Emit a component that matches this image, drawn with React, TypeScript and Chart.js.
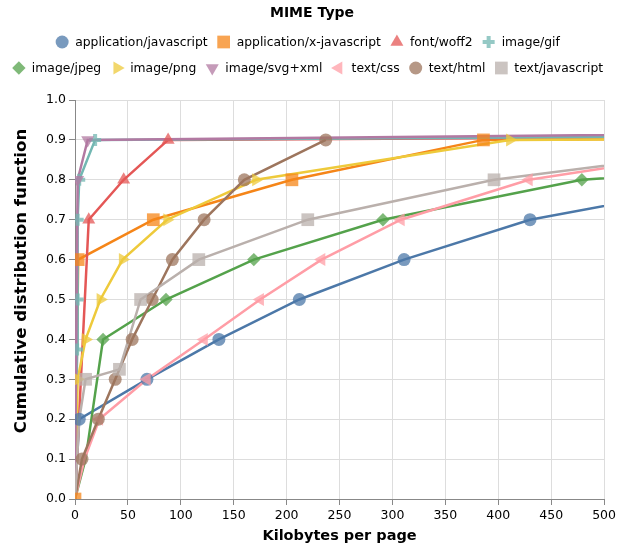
import React, { useEffect, useRef } from 'react';
import { Chart, registerables } from 'chart.js';
import { drawPoint } from 'chart.js/helpers';

Chart.register(...registerables);

const legendTitle = 'MIME Type';
const xTitle = 'Kilobytes per page';
const yTitle = 'Cumulative distribution function';

const seriesNames = [
  'application/javascript',
  'application/x-javascript',
  'font/woff2',
  'image/gif',
  'image/jpeg',
  'image/png',
  'image/svg+xml',
  'text/css',
  'text/html',
  'text/javascript',
];
const colors = ['#4c78a8', '#f58518', '#e45756', '#72b7b2', '#54a24b', '#eeca3b', '#b279a2', '#ff9da6', '#9d755d', '#bab0ac'];

// Kilobytes (x) and cumulative fraction (y) per MIME type
const appJsX = [0, 4, 68, 136, 212, 311, 430, 635];
const appJsY = [0, 0.2, 0.3, 0.4, 0.5, 0.6, 0.7, 0.8];
const appXJsX = [0, 3, 74, 205, 386, 1000];
const appXJsY = [0, 0.6, 0.7, 0.8, 0.9, 0.91];
const woffX = [0, 13, 46, 88, 1000];
const woffY = [0, 0.7, 0.8, 0.9, 0.913];
const gifX = [0, 2, 2.5, 2.5, 4, 19, 1000];
const gifY = [0, 0.375, 0.5, 0.7, 0.8, 0.9, 0.915];
const jpegX = [0, 10, 26.5, 86, 169, 291, 479, 1000];
const jpegY = [0, 0.1, 0.4, 0.5, 0.6, 0.7, 0.8, 0.9];
const pngX = [0, 2.5, 10, 24, 45, 87, 171, 411, 1000];
const pngY = [0, 0.3, 0.4, 0.5, 0.6, 0.7, 0.8, 0.9, 0.907];
const svgX = [0, 2.5, 12, 1000];
const svgY = [0, 0.8, 0.9, 0.925];
const cssX = [0, 9, 23, 68, 122, 175, 233, 308, 429, 674];
const cssY = [0, 0.1, 0.2, 0.3, 0.4, 0.5, 0.6, 0.7, 0.8, 0.9];
const htmlX = [0, 6.6, 22, 38, 54, 73, 92, 122, 160, 237];
const htmlY = [0, 0.1, 0.2, 0.3, 0.4, 0.5, 0.6, 0.7, 0.8, 0.9];
const textJsX = [0, 4, 10, 42, 62, 117, 220, 396, 693];
const textJsY = [0, 0.2, 0.3, 0.325, 0.5, 0.6, 0.7, 0.8, 0.9];

const seriesX = [appJsX, appXJsX, woffX, gifX, jpegX, pngX, svgX, cssX, htmlX, textJsX];
const seriesY = [appJsY, appXJsY, woffY, gifY, jpegY, pngY, svgY, cssY, htmlY, textJsY];
// leading points drawn without a marker
const unmarkedLead = [1, 0, 1, 1, 2, 1, 1, 2, 1, 2];

const xTicks = { min: 0, max: 500, step: 50 };
const yTicks = { min: 0, max: 1, step: 0.1 };

const legendRows = [4, 6];

const markerStyles = [
  { style: 'circle', rotation: 0, radius: 6.5, bw: 0 },
  { style: 'rect', rotation: 0, radius: 9, bw: 0 },
  { style: 'triangle', rotation: 0, radius: 7.5, bw: 0 },
  { style: 'cross', rotation: 0, radius: 6, bw: 4 },
  { style: 'rectRot', rotation: 0, radius: 6.7, bw: 0 },
  { style: 'triangle', rotation: 90, radius: 7.5, bw: 0 },
  { style: 'triangle', rotation: 180, radius: 7.5, bw: 0 },
  { style: 'triangle', rotation: 270, radius: 7.5, bw: 0 },
  { style: 'circle', rotation: 0, radius: 6.5, bw: 0 },
  { style: 'rect', rotation: 0, radius: 9, bw: 0 },
];

const FONT = '"DejaVu Sans", Verdana, sans-serif';

function alpha(hex: string, a: number) {
  const r = parseInt(hex.slice(1, 3), 16);
  const g = parseInt(hex.slice(3, 5), 16);
  const b = parseInt(hex.slice(5, 7), 16);
  return `rgba(${r},${g},${b},${a})`;
}

const legendPlugin = {
  id: 'customLegend',
  afterDraw(chart: any) {
    const ctx = chart.ctx as CanvasRenderingContext2D;
    ctx.save();
    ctx.fillStyle = '#000';
    ctx.font = `bold 14px ${FONT}`;
    ctx.textAlign = 'center';
    ctx.textBaseline = 'alphabetic';
    ctx.fillText(legendTitle, 312, 17);

    // y-axis title
    ctx.save();
    ctx.font = `bold 16.6px ${FONT}`;
    ctx.textBaseline = 'middle';
    ctx.translate(22, 281);
    ctx.rotate(-Math.PI / 2);
    ctx.fillText(yTitle, 0, 0);
    ctx.restore();

    ctx.font = `12.35px ${FONT}`;
    ctx.textAlign = 'left';
    ctx.textBaseline = 'middle';
    const rowY = [42, 68];
    let idx = 0;
    legendRows.forEach((n, r) => {
      const items: number[] = [];
      for (let k = 0; k < n; k++) items.push(idx + k);
      const widths = items.map((i) => ctx.measureText(seriesNames[i]).width);
      const total = widths.reduce((a, w) => a + w + 19, 0) + 10 * (n - 1);
      let L = 308 - total / 2;
      items.forEach((i, k) => {
        const st = markerStyles[i];
        ctx.fillStyle = alpha(colors[i], 0.75);
        ctx.strokeStyle = alpha(colors[i], 0.75);
        ctx.lineWidth = st.bw;
        drawPoint(ctx, { pointStyle: st.style, rotation: st.rotation, radius: st.radius, borderWidth: st.bw } as any, L + 6, rowY[r]);
        ctx.fillStyle = '#000';
        ctx.fillText(seriesNames[i], L + 19, rowY[r] + 0.5);
        L += 19 + widths[k] + 10;
      });
      idx += n;
    });
    ctx.restore();
  },
};

export default function App() {
  const ref = useRef<HTMLCanvasElement>(null);
  useEffect(() => {
    if (!ref.current) return;
    const datasets: any[] = [];
    seriesNames.forEach((name, i) => {
      const data = seriesX[i].map((x, j) => ({ x, y: seriesY[i][j] }));
      datasets.push({
        label: name,
        data,
        borderColor: colors[i],
        borderWidth: 2.5,
        pointRadius: 0,
        tension: 0,
        fill: false,
        clip: 0,
        order: 40 - i,
      });
      const st = markerStyles[i];
      const lead = unmarkedLead[i];
      datasets.push({
        label: name + ' points',
        data,
        showLine: false,
        pointStyle: st.style,
        pointRotation: st.rotation,
        pointRadius: (c: any) => (c.dataIndex < lead ? 0 : st.radius),
        pointBackgroundColor: alpha(colors[i], 0.75),
        pointBorderColor: alpha(colors[i], 0.75),
        pointBorderWidth: st.bw,
        clip: 0,
        order: 20 - i,
      });
    });
    const chart = new Chart(ref.current, {
      type: 'line',
      data: { datasets },
      plugins: [legendPlugin],
      options: {
        animation: false,
        responsive: false,
        devicePixelRatio: 1,
        events: [],
        layout: { padding: { top: 100, right: 12, bottom: 0, left: 0 } },
        plugins: { legend: { display: false }, tooltip: { enabled: false }, title: { display: false } },
        scales: {
          x: {
            type: 'linear',
            min: xTicks.min,
            max: xTicks.max,
            afterFit: (s: any) => { s.height = 47; },
            ticks: { stepSize: xTicks.step, color: '#000', font: { family: FONT, size: 12.5 }, padding: 3, maxRotation: 0 },
            grid: { color: '#ddd', tickColor: '#888', tickLength: 6 },
            border: { display: true, color: '#888', width: 1 },
            title: { display: true, text: xTitle, color: '#000', font: { family: FONT, size: 14.5, weight: 'bold' }, padding: { top: 0, bottom: 1 } },
          },
          y: {
            type: 'linear',
            min: yTicks.min,
            max: yTicks.max,
            afterFit: (s: any) => { s.width = 75; },
            ticks: { stepSize: yTicks.step, color: '#000', font: { family: FONT, size: 12.5 }, padding: 3, callback: (v: any) => Number(v).toFixed(1) },
            grid: { color: '#ddd', tickColor: '#888', tickLength: 6 },
            border: { display: true, color: '#888', width: 1 },
            title: { display: false },
          },
        },
      } as any,
    });
    return () => chart.destroy();
  }, []);
  return (
    <div style={{ position: 'absolute', left: 0, top: 0, width: 619, height: 546 }}>
      <canvas ref={ref} width={619} height={546} style={{ display: 'block', width: 619, height: 546 }} />
    </div>
  );
}
